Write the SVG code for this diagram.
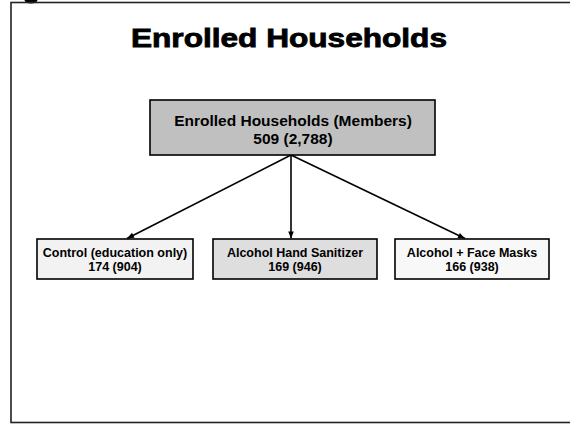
<svg xmlns="http://www.w3.org/2000/svg" width="570" height="424" viewBox="0 0 570 424">
<defs>
<style>
.t{font-family:"Liberation Sans",Arial,sans-serif;font-weight:bold;fill:#000;text-anchor:middle}
.box{stroke:#000;stroke-width:1.6}
.con{stroke:#000;stroke-width:1.6;fill:none}
</style>
<marker id="ah" viewBox="0 0 10 10" refX="10" refY="5" markerWidth="8" markerHeight="7" orient="auto" markerUnits="userSpaceOnUse">
<path d="M0,1 L10,5 L0,9 z" fill="#000"/>
</marker>
</defs>
<rect x="0" y="0" width="570" height="424" fill="#fff"/>
<ellipse cx="31" cy="0" rx="6.5" ry="3.5" fill="#000"/>
<rect x="11" y="2.5" width="570" height="420" fill="none" stroke="#222" stroke-width="1.6"/>
<text class="t" x="289" y="47" font-size="25" stroke="#000" stroke-width="0.8" textLength="316" lengthAdjust="spacingAndGlyphs">Enrolled Households</text>
<g id="connectors">
<line class="con" x1="291" y1="155" x2="127" y2="238.5" marker-end="url(#ah)"/>
<line class="con" x1="291" y1="155" x2="291" y2="238.5" marker-end="url(#ah)"/>
<line class="con" x1="291" y1="155" x2="465" y2="238.5" marker-end="url(#ah)"/>
</g>
<g id="enrolled">
<rect class="box" x="150" y="100" width="285" height="55" fill="#c0c0c0"/>
<text class="t" x="293" y="126" font-size="15.5">Enrolled Households (Members)</text>
<text class="t" x="293" y="144" font-size="15.5">509 (2,788)</text>
</g>
<g id="control">
<rect class="box" x="37" y="239" width="156" height="40" fill="#f2f2f2"/>
<text class="t" x="115" y="257" font-size="12.5">Control (education only)</text>
<text class="t" x="115" y="271" font-size="12.5">174 (904)</text>
</g>
<g id="sanitizer">
<rect class="box" x="213" y="239" width="164" height="40" fill="#dedede"/>
<text class="t" x="295" y="257" font-size="12.5">Alcohol Hand Sanitizer</text>
<text class="t" x="295" y="271" font-size="12.5">169 (946)</text>
</g>
<g id="masks">
<rect class="box" x="395" y="239" width="154" height="40" fill="#f8f8f8"/>
<text class="t" x="472" y="257" font-size="12.5">Alcohol + Face Masks</text>
<text class="t" x="472" y="271" font-size="12.5">166 (938)</text>
</g>
</svg>
